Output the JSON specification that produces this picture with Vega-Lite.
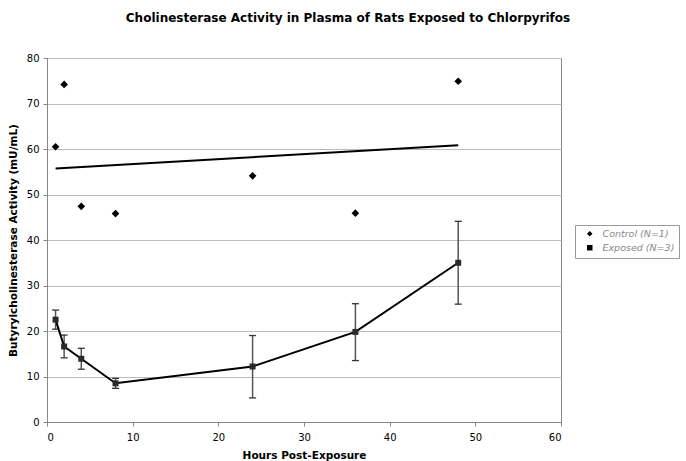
{
  "$schema": "https://vega.github.io/schema/vega-lite/v6.json",
  "autosize": {"type": "none"},
  "width": 514,
  "height": 364,
  "padding": {"left": 47, "top": 58, "right": 125, "bottom": 39},
  "background": "white",
  "config": {
    "font": "DejaVu Sans",
    "view": {"stroke": "#888888", "strokeWidth": 1},
    "axis": {
      "labelFont": "DejaVu Sans",
      "labelFontSize": 10,
      "labelColor": "#000000",
      "titleFont": "DejaVu Sans",
      "titleFontSize": 10.5,
      "titleFontWeight": "bold",
      "titleColor": "#000000",
      "domainColor": "#888888",
      "tickColor": "#888888",
      "tickSize": 4,
      "gridColor": "#bbbbbb",
      "gridWidth": 1
    }
  },
  "title": {
    "text": "Cholinesterase Activity in Plasma of Rats Exposed to Chlorpyrifos",
    "font": "DejaVu Sans",
    "fontSize": 12,
    "fontWeight": "bold",
    "color": "#000000",
    "anchor": "middle",
    "dx": 44,
    "offset": 28
  },
  "datasets": {
    "control": [
      {"hours": 1, "activity": 60.5, "series": "Control (N=1)"},
      {"hours": 2, "activity": 74.2, "series": "Control (N=1)"},
      {"hours": 4, "activity": 47.4, "series": "Control (N=1)"},
      {"hours": 8, "activity": 45.8, "series": "Control (N=1)"},
      {"hours": 24, "activity": 54.1, "series": "Control (N=1)"},
      {"hours": 36, "activity": 45.9, "series": "Control (N=1)"},
      {"hours": 48, "activity": 74.9, "series": "Control (N=1)"}
    ],
    "trend": [
      {"hours": 1, "activity": 55.7},
      {"hours": 48, "activity": 60.85}
    ],
    "exposed": [
      {"hours": 1, "activity": 22.5, "lo": 20.4, "hi": 24.6, "series": "Exposed (N=3)"},
      {"hours": 2, "activity": 16.6, "lo": 14.1, "hi": 19.1, "series": "Exposed (N=3)"},
      {"hours": 4, "activity": 13.9, "lo": 11.6, "hi": 16.2, "series": "Exposed (N=3)"},
      {"hours": 8, "activity": 8.5, "lo": 7.4, "hi": 9.6, "series": "Exposed (N=3)"},
      {"hours": 24, "activity": 12.2, "lo": 5.3, "hi": 19.0, "series": "Exposed (N=3)"},
      {"hours": 36, "activity": 19.8, "lo": 13.5, "hi": 26.0, "series": "Exposed (N=3)"},
      {"hours": 48, "activity": 35.0, "lo": 25.9, "hi": 44.1, "series": "Exposed (N=3)"}
    ]
  },
  "layer": [
    {
      "data": {"name": "trend"},
      "mark": {"type": "line", "color": "#000000", "strokeWidth": 2},
      "encoding": {
        "x": {"field": "hours", "type": "quantitative", "scale": {"domain": [0, 60]},
          "axis": {"title": "Hours Post-Exposure", "values": [0, 10, 20, 30, 40, 50, 60], "grid": false, "labelPadding": 6, "titlePadding": 8}},
        "y": {"field": "activity", "type": "quantitative", "scale": {"domain": [0, 80]},
          "axis": {"title": "Butyrylcholinesterase Activity (mU/mL)", "values": [0, 10, 20, 30, 40, 50, 60, 70, 80], "grid": true, "labelPadding": 4, "titlePadding": 8}}
      }
    },
    {
      "data": {"name": "control"},
      "mark": {"type": "point", "filled": true, "color": "#000000", "opacity": 1, "size": 58},
      "encoding": {
        "x": {"field": "hours", "type": "quantitative"},
        "y": {"field": "activity", "type": "quantitative"},
        "shape": {"field": "series", "type": "nominal",
          "scale": {"domain": ["Control (N=1)", "Exposed (N=3)"], "range": ["diamond", "square"]},
          "legend": {"title": null, "orient": "none", "legendX": 528, "legendY": 167, "strokeColor": "#999999", "padding": 4,
            "labelFont": "DejaVu Sans", "labelFontSize": 9.5, "labelFontStyle": "italic", "labelColor": "#888888",
            "symbolFillColor": "#000000", "symbolStrokeColor": "#000000", "symbolSize": 30, "rowPadding": 2, "symbolOffset": 6, "labelOffset": 8}}
      }
    },
    {
      "data": {"name": "exposed"},
      "mark": {"type": "rule", "color": "#555555", "strokeWidth": 1.5},
      "encoding": {
        "x": {"field": "hours", "type": "quantitative"},
        "y": {"field": "lo", "type": "quantitative"},
        "y2": {"field": "hi"}
      }
    },
    {
      "data": {"name": "exposed"},
      "mark": {"type": "tick", "orient": "horizontal", "color": "#333333", "size": 7, "thickness": 1.3, "opacity": 1},
      "encoding": {
        "x": {"field": "hours", "type": "quantitative"},
        "y": {"field": "lo", "type": "quantitative"}
      }
    },
    {
      "data": {"name": "exposed"},
      "mark": {"type": "tick", "orient": "horizontal", "color": "#333333", "size": 7, "thickness": 1.3, "opacity": 1},
      "encoding": {
        "x": {"field": "hours", "type": "quantitative"},
        "y": {"field": "hi", "type": "quantitative"}
      }
    },
    {
      "data": {"name": "exposed"},
      "mark": {"type": "line", "color": "#000000", "strokeWidth": 2},
      "encoding": {
        "x": {"field": "hours", "type": "quantitative"},
        "y": {"field": "activity", "type": "quantitative"}
      }
    },
    {
      "data": {"name": "exposed"},
      "mark": {"type": "point", "filled": true, "color": "#2a2a2a", "opacity": 1, "size": 36},
      "encoding": {
        "x": {"field": "hours", "type": "quantitative"},
        "y": {"field": "activity", "type": "quantitative"},
        "shape": {"field": "series", "type": "nominal"}
      }
    }
  ]
}
